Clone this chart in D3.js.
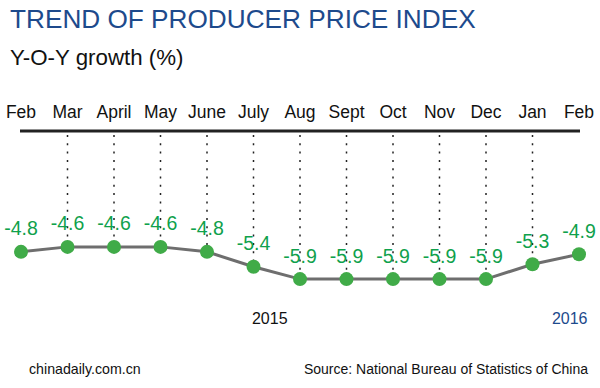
<!DOCTYPE html>
<html><head><meta charset="utf-8">
<script src="https://cdn.jsdelivr.net/npm/d3@7"></script>
<style>body{margin:0;background:#fff}svg{display:block}text{font-family:"Liberation Sans",Arial,sans-serif}</style>
</head><body><svg id="c" width="600" height="388"></svg>
<script>
const months = ["Feb","Mar","April","May","June","July","Aug","Sept","Oct","Nov","Dec","Jan","Feb"];
const values = [-4.8,-4.6,-4.6,-4.6,-4.8,-5.4,-5.9,-5.9,-5.9,-5.9,-5.9,-5.3,-4.9];
const yearLabels = [{label:"2015", idx:5.35, color:"#111"},{label:"2016", idx:11.8, color:"#1d4a8c"}];

const svg = d3.select("#c");
const x = d3.scaleLinear().domain([0, months.length-1]).range([21, 579]);
const y = d3.scaleLinear().domain([-4, -6.5]).range([232, 294]);

svg.append("text").attr("x",10).attr("y",28).attr("font-size",26.2).attr("fill","#1d4a8c").text("TREND OF PRODUCER PRICE INDEX");
svg.append("text").attr("x",10).attr("y",65).attr("font-size",22.3).attr("fill","#111").text("Y-O-Y growth (%)");

// month labels
svg.selectAll("text.m").data(months).enter().append("text").attr("class","m")
  .attr("x",(d,i)=>x(i)).attr("y",118).attr("text-anchor","middle").attr("font-size",17.5).attr("fill","#111").text(d=>d);

// axis line
svg.append("line").attr("x1",20).attr("x2",580).attr("y1",131).attr("y2",131).attr("stroke","#222").attr("stroke-width",3);

// dotted lines (interior months)
svg.selectAll("line.d").data(values.slice(1,-1)).enter().append("line").attr("class","d")
  .attr("x1",(d,i)=>x(i+1)).attr("x2",(d,i)=>x(i+1))
  .attr("y1",135).attr("y2",d=>y(d))
  .attr("stroke","#222").attr("stroke-width",1.5).attr("stroke-dasharray","2,6.3");

// line
svg.append("path").datum(values).attr("fill","none").attr("stroke","#6e6e6e").attr("stroke-width",3)
  .attr("d", d3.line().x((d,i)=>x(i)).y(d=>y(d)));

// points
svg.selectAll("circle").data(values).enter().append("circle")
  .attr("cx",(d,i)=>x(i)).attr("cy",d=>y(d)).attr("r",7).attr("fill","#40ab48");

// value labels
svg.selectAll("text.v").data(values).enter().append("text").attr("class","v")
  .attr("x",(d,i)=>x(i)).attr("y",d=>y(d)-16.5).attr("text-anchor","middle")
  .attr("font-size",19.5).attr("fill","#0fa14c").text(d=>d.toFixed(1));

// years
svg.selectAll("text.yr").data(yearLabels).enter().append("text").attr("class","yr")
  .attr("x",d=>x(d.idx)).attr("y",324).attr("text-anchor","middle").attr("font-size",16).attr("fill",d=>d.color).text(d=>d.label);

svg.append("text").attr("x",29).attr("y",374).attr("font-size",14.2).attr("fill","#111").text("chinadaily.com.cn");
svg.append("text").attr("x",588).attr("y",374).attr("text-anchor","end").attr("font-size",14).attr("fill","#111").text("Source: National Bureau of Statistics of China");
</script></body></html>
